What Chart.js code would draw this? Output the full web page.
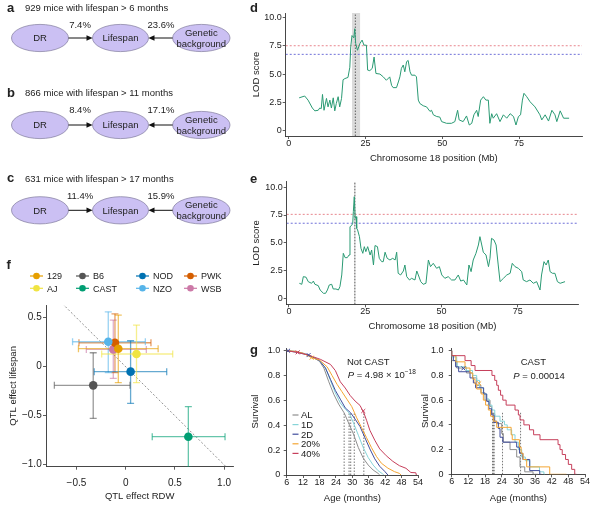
<!DOCTYPE html>
<html>
<head>
<meta charset="utf-8">
<script src="https://cdn.jsdelivr.net/npm/chart.js@4.4.1/dist/chart.umd.min.js"></script>
<style>
  body { margin: 0; background: #fff; }
  #wrap { position: relative; width: 596px; height: 508px; overflow: hidden; font-family: "Liberation Sans", Arial, sans-serif; }
  #wrap canvas, #wrap svg { position: absolute; }
</style>
</head>
<body>
<div id="wrap"></div>
<script>
// ---- panels a-c: variance explained
const cohortTitles = ['929 mice with lifespan > 6 months', '866 mice with lifespan > 11 months', '631 mice with lifespan > 17 months'];
const drShare = ['7.4%', '8.4%', '11.4%'];
const geneticShare = ['23.6%', '17.1%', '15.9%'];

// ---- panel d: LOD scan, all mice
const dPos = [3.4,5.2,6.3,7.7,8.5,9.6,10.1,10.6,11.0,11.5,12.3,12.8,13.4,13.9,14.5,15.0,15.5,16.1,16.6,17.2,
  17.7,18.3,19.3,19.9,20.2,20.6,21.2,21.5,21.8,22.4,23.2,23.9,24.5,25.3,25.7,26.4,27.2,27.8,28.4,29.7,
  30.8,31.8,32.9,33.5,34.0,35.1,35.7,36.2,36.7,37.3,37.8,38.4,38.9,39.5,40.0,41.1,41.6,42.2,42.7,43.8,
  44.9,46.0,46.5,47.1,48.2,49.2,49.8,51.4,53.0,54.1,55.0,55.5,56.8,57.9,58.8,59.6,60.3,61.2,61.7,62.5,
  63.4,64.2,65.0,65.5,66.1,66.6,67.7,68.8,69.9,71.0,72.1,73.2,74.0,74.8,75.5,76.1,76.6,77.5,78.6,80.2,
  81.8,82.4,83.5,84.6,85.7,86.7,87.3,88.4,89.5,91.3];
const dLod = [2.9,3.06,2.7,2.0,1.75,1.8,2.0,1.95,3.2,1.8,2.85,2.1,2.7,2.0,2.9,1.75,2.4,3.0,2.1,2.85,
  4.5,4.6,4.7,5.6,7.4,8.4,8.2,9.0,7.7,7.1,7.7,8.0,7.55,7.55,5.35,5.3,5.5,6.5,5.05,5.0,
  4.75,4.45,4.75,4.0,3.8,3.8,4.3,4.75,5.5,5.8,5.2,6.1,6.2,5.2,4.9,4.9,4.75,2.7,2.4,2.2,
  2.1,1.7,1.8,1.4,1.25,1.2,0.8,0.65,0.65,0.8,1.8,0.95,0.8,1.3,0.5,0.65,1.4,1.8,1.25,2.7,
  3.0,2.7,2.7,0.65,1.5,1.1,1.5,0.8,1.4,1.1,1.5,1.25,0.5,1.25,1.4,2.7,3.3,3.0,2.55,2.1,
  1.4,0.95,1.4,0.85,1.8,1.4,0.8,1.75,1.1,1.1];
const dThresh = [7.5, 6.74];
const dBand = [20.6, 23.3];
const dPeak = 21.7;

// ---- panel e: LOD scan, second model
const ePos = [3.4,4.2,4.7,5.6,6.3,7.4,8.0,8.5,9.6,10.2,11.3,12.0,12.6,13.2,14.0,14.5,15.4,16.2,16.7,17.3,
  17.8,18.4,19.1,19.7,20.0,20.5,20.9,21.1,21.4,21.7,22.0,22.2,22.5,23.1,23.6,24.2,24.7,25.2,25.8,26.6,
  27.1,27.7,28.2,29.0,29.6,30.4,30.9,31.5,32.2,33.1,34.0,34.8,35.3,35.8,36.6,37.5,38.0,38.6,39.5,40.2,
  41.3,41.9,42.4,43.2,44.0,44.9,45.7,46.4,47.3,48.4,49.3,50.1,51.1,52.2,53.3,54.4,55.5,56.3,57.2,58.3,
  59.0,59.7,60.4,61.3,62.1,62.6,63.2,63.7,64.6,65.4,65.9,66.4,67.2,67.9,68.6,69.2,70.3,71.4,72.5,73.2,
  74.1,75.2,76.3,76.8,77.9,79.0,80.1,81.2,82.3,82.8,83.6,84.3,85.0,85.6,86.4,87.2,88.0,88.9,90.5];
const eLod = [1.35,1.26,1.95,1.9,1.5,1.35,1.55,1.26,1.14,0.75,0.45,0.45,0.75,1.2,1.26,0.84,0.84,0.75,1.05,2.1,
  4.05,3.66,3.66,3.9,6.45,6.55,6.75,7.8,9.15,7.2,7.35,6.3,6.15,5.55,4.5,4.05,4.65,4.2,4.65,3.9,
  4.35,3.0,4.75,4.65,3.6,3.3,3.3,4.15,3.6,3.45,3.6,3.45,4.15,2.25,2.1,2.46,3.0,1.95,1.65,1.8,
  1.65,2.46,2.1,1.5,1.26,1.35,3.45,2.85,3.15,2.7,2.85,2.1,1.8,1.95,1.65,1.65,2.1,1.55,1.65,1.2,
  3.0,2.4,3.45,4.05,4.8,5.55,4.8,4.15,3.9,2.85,3.6,5.4,5.25,4.8,3.0,1.5,1.8,2.1,2.25,3.15,
  2.85,2.7,2.4,1.65,1.5,1.65,1.35,1.5,0.75,2.1,3.3,3.0,3.45,2.4,2.25,2.25,1.5,1.35,1.5];
const eThresh = [7.56, 6.76];
const eBand = [21.35, 21.85];
const ePeak = 21.6;

const lodTicks = [0, 2.5, 5, 7.5, 10];
const lodLabels = ['0', '2.5', '5.0', '7.5', '10.0'];
const posTicks = [0, 25, 50, 75];
const posLabels = ['0', '25', '50', '75'];

// ---- panel f: QTL effects per founder strain
const strains = ['129', 'AJ', 'B6', 'CAST', 'NOD', 'NZO', 'PWK', 'WSB'];
const rdwEff = [-0.075, 0.11, -0.33, 0.637, 0.05, -0.177, -0.109, -0.126];
const rdwLo = [-0.48, -0.244, -0.725, 0.27, -0.32, -0.54, -0.475, -0.40];
const rdwHi = [0.33, 0.478, 0.044, 1.01, 0.417, 0.20, 0.257, 0.21];
const lifeEff = [0.184, 0.13, -0.19, -0.714, -0.05, 0.255, 0.245, 0.177];
const lifeLo = [-0.163, -0.163, -0.527, -1.027, -0.374, -0.06, -0.06, -0.118];
const lifeHi = [0.527, 0.425, 0.143, -0.408, 0.265, 0.56, 0.54, 0.476];
const rdwTicks = [-0.5, 0, 0.5, 1.0];
const rdwLabels = ['\u22120.5', '0', '0.5', '1.0'];
const lifeTicks = [-1.0, -0.5, 0, 0.5];
const lifeLabels = ['\u22121.0', '\u22120.5', '0', '0.5'];

// ---- panel g: survival, [age (months), survival]
const groups = ['AL', '1D', '2D', '20%', '40%'];
const ncAL = [[6,1],[9,0.995],[12,0.98],[15,0.955],[18,0.915],[19.6,0.86],[21.4,0.75],[23.2,0.65],[25,0.57],[27,0.5],[28.6,0.42],[30.4,0.33],[32.2,0.22],[34,0.135],[35.8,0.08],[37.6,0.04],[39.4,0.013],[40,0]];
const nc1D = [[6,1],[9,0.995],[12,0.98],[15,0.955],[18,0.92],[20.2,0.86],[22,0.76],[23.8,0.66],[25.6,0.58],[27.4,0.53],[28.8,0.5],[30.4,0.42],[32.2,0.32],[34,0.22],[35.8,0.14],[37.6,0.08],[39.4,0.035],[41,0.01],[41.5,0]];
const nc2D = [[6,1],[9,0.99],[12,0.975],[14,0.965],[18,0.92],[20.2,0.86],[22,0.77],[23.8,0.68],[25.6,0.61],[27.4,0.54],[29.4,0.5],[31,0.45],[32.8,0.39],[34.6,0.3],[36.4,0.21],[38.2,0.13],[40,0.07],[41.8,0.03],[43,0]];
const nc20 = [[6,1],[9,0.995],[12,0.98],[15,0.945],[18,0.925],[20.8,0.87],[22.6,0.8],[24.4,0.73],[26.2,0.67],[28,0.61],[29.8,0.55],[30.8,0.5],[31.6,0.46],[33.4,0.38],[35.2,0.3],[37,0.22],[38.8,0.15],[40.6,0.095],[43,0.055],[45.4,0.027],[47.2,0.013],[47.8,0]];
const nc40 = [[6,1],[10,0.987],[14,0.965],[18.4,0.93],[22,0.89],[23.8,0.84],[25.6,0.75],[27.4,0.7],[29.2,0.64],[31,0.595],[32.8,0.56],[34.2,0.5],[35.2,0.44],[36.4,0.36],[38.2,0.28],[40,0.21],[42.4,0.155],[44.8,0.11],[47.2,0.075],[49.6,0.054],[51.4,0.02],[53.2,0.018],[53.4,0]];
const ncMedians = [27.0, 28.8, 29.4, 30.7, 34.2];
const ncCensorAge = [6.5, 10, 14, 15.1, 34];
const ncCensorSurv = [1.0, 0.987, 0.965, 0.944, 0.515];
const ncCensorGroup = ['2D', '40%', '2D', '20%', '40%'];

const castAL = [[6,1],[7.8,0.92],[11.3,0.86],[13.5,0.82],[15.0,0.78],[16.5,0.72],[18.0,0.66],[19.8,0.60],[20.4,0.55],[21.5,0.49],[22.2,0.43],[24.0,0.41],[24.6,0.33],[27.0,0.26],[29.4,0.20],[30.6,0.14],[32.3,0.06],[35.3,0.02],[37.1,0]];
const cast1D = [[6,1],[7.8,0.95],[8.0,0.91],[11.3,0.87],[13.5,0.84],[15.0,0.80],[16.0,0.76],[17.4,0.70],[18.6,0.65],[19.4,0.61],[20.5,0.56],[21.5,0.52],[23.4,0.47],[25.0,0.43],[26.0,0.40],[27.6,0.36],[28.8,0.32],[30.0,0.26],[31.2,0.20],[32.5,0.14],[34.1,0.11],[37.6,0.06],[39.2,0.02],[39.6,0]];
const cast2D = [[6,1],[6.6,0.96],[7.4,0.92],[8.5,0.87],[12.6,0.83],[13.8,0.78],[14.6,0.74],[17.5,0.70],[18.6,0.65],[19.4,0.59],[20.4,0.53],[21.2,0.48],[22.8,0.42],[23.4,0.37],[24.4,0.30],[29.4,0.26],[30.4,0.22],[31.6,0.17],[34.1,0.12],[37.7,0.03],[38.3,0]];
const cast20 = [[6,1],[7.5,0.96],[10.8,0.91],[12.6,0.86],[13.6,0.82],[14.4,0.77],[15.0,0.73],[16.6,0.69],[17.4,0.65],[18.2,0.60],[19.2,0.56],[20.0,0.52],[21.0,0.47],[22.2,0.43],[27.4,0.38],[27.8,0.32],[30.4,0.28],[31.0,0.22],[31.7,0.17],[33.0,0.12],[41.3,0.06],[47.3,0]];
const cast40 = [[6,1],[10.8,0.96],[13.0,0.92],[14.4,0.88],[20.5,0.84],[21.5,0.80],[22.2,0.76],[22.8,0.72],[23.6,0.68],[24.4,0.64],[25.6,0.60],[28.8,0.56],[30.0,0.52],[30.6,0.48],[32.0,0.44],[34.0,0.40],[35.5,0.36],[37.8,0.32],[44.3,0.28],[45.0,0.24],[45.8,0.20],[47.0,0.16],[48.0,0.12],[49.2,0.08],[50.3,0.04],[50.9,0]];
const castMedians = [20.7, 21.0, 21.3, 24.3, 30.8];
const castCensorAge = [10.2, 15.9];
const castCensorSurv = [0.857, 0.736];
const castCensorGroup = ['2D', '20%'];

const ageTicks = [6, 12, 18, 24, 30, 36, 42, 48, 54];
const ageLabels = ageTicks.map(String);
const survTicks = [0, 0.2, 0.4, 0.6, 0.8, 1.0];
const survLabels = ['0', '0.2', '0.4', '0.6', '0.8', '1.0'];

// ---- styles
const strainColors = { '129': '#e69f00', 'AJ': '#f0e442', 'B6': '#555555', 'CAST': '#009e73',
  'NOD': '#0072b2', 'NZO': '#56b4e9', 'PWK': '#d55e00', 'WSB': '#cc79a7' };
const groupColors = { 'AL': '#8e8e8e', '1D': '#86d4d8', '2D': '#3f4c9c', '20%': '#f4a533', '40%': '#c63f5b' };
const lodColor = '#2a9a73';

Chart.defaults.font.family = '"Liberation Sans", Arial, sans-serif';
Chart.defaults.color = '#222';

const wrap = document.getElementById('wrap');

function rgba(hex, a) {
  const n = parseInt(hex.slice(1), 16);
  return `rgba(${n >> 16},${(n >> 8) & 255},${n & 255},${a})`;
}

function addCanvas(left, top, w, h) {
  const c = document.createElement('canvas');
  c.width = w; c.height = h;
  c.style.left = left + 'px'; c.style.top = top + 'px';
  c.style.width = w + 'px'; c.style.height = h + 'px';
  wrap.appendChild(c);
  return c;
}

// axis with fixed box size so plot areas land where the reference has them
function axis(min, max, ticks, labels, o) {
  return {
    type: 'linear', min, max,
    afterBuildTicks: s => { s.ticks = ticks.map(v => ({ value: v })); },
    afterFit: s => {
      if (s.isHorizontal()) s.height = o.size; else s.width = o.size;
      s.paddingLeft = s.paddingRight = s.paddingTop = s.paddingBottom = 0;
    },
    ticks: { autoSkip: false, maxRotation: 0, padding: o.pad, color: '#222',
      font: { size: o.font || 9, lineHeight: 1 },
      callback: v => labels[ticks.indexOf(v)] },
    grid: { drawOnChartArea: false, tickLength: 3, color: '#333', lineWidth: 0.8 },
    border: { color: '#333', width: 0.9 },
    title: { display: true, text: o.title, color: '#222', font: { size: 9.5, lineHeight: 1 },
      padding: { top: o.tpad, bottom: o.tpad } }
  };
}

function options(padding, x, y) {
  return { responsive: false, animation: false, events: [], layout: { padding },
    plugins: { legend: { display: false }, tooltip: { enabled: false } }, scales: { x, y } };
}

function line(data, color, extra) {
  return Object.assign({ type: 'line', data, borderColor: color, borderWidth: 1, pointRadius: 0,
    fill: false, tension: 0 }, extra || {});
}

function pts(xs, ys) { return xs.map((x, i) => ({ x, y: ys[i] })); }

// ---- d and e
function lodChart(canvas, pos, lod, xr, yr, thresh, band, peak, pad, ysize, xsize) {
  const datasets = [
    line(pos.map((x, i) => ({ x, y: lod[i] })), lodColor, { order: 1 }),
    line([{ x: peak, y: yr[0] }, { x: peak, y: yr[1] }], '#555', { borderDash: [1.5, 1.5], borderWidth: 0.9, order: 2 }),
    line([{ x: xr[0], y: thresh[0] }, { x: xr[1], y: thresh[0] }], '#e8868d', { borderDash: [2, 2], order: 3 }),
    line([{ x: xr[0], y: thresh[1] }, { x: xr[1], y: thresh[1] }], '#6f70d8', { borderDash: [2, 2], order: 3 }),
    line([{ x: band[0], y: yr[1] }, { x: band[1], y: yr[1] }], 'rgba(0,0,0,0)',
      { borderWidth: 0, fill: { value: yr[0] }, backgroundColor: 'rgba(165,165,165,0.4)', order: 5 })
  ];
  new Chart(canvas, {
    type: 'line', data: { datasets },
    options: options(pad,
      axis(xr[0], xr[1], posTicks, posLabels, { size: xsize, pad: 0, title: 'Chromosome 18 position (Mb)', tpad: 5.25 }),
      axis(yr[0], yr[1], lodTicks, lodLabels, { size: ysize, pad: 1, title: 'LOD score', tpad: 6.25 }))
  });
}

lodChart(addCanvas(245, 0, 345, 168), dPos, dLod, [-0.98, 95.5], [-0.47, 10.39], dThresh, dBand, dPeak,
  { left: 0, top: 13, right: 8, bottom: 0 }, 40.7, 32);
lodChart(addCanvas(245, 168, 345, 168), ePos, eLod, [-0.75, 94.85], [-0.54, 10.5], eThresh, eBand, ePeak,
  { left: 0, top: 13.7, right: 11.7, bottom: 0 }, 41.7, 31.7);

// ---- f
const fSets = [];
strains.forEach((s, i) => {
  const col = strainColors[s];
  fSets.push({ type: 'scatter', data: [{ x: rdwEff[i], y: lifeEff[i] }], backgroundColor: col,
    borderWidth: 0, pointRadius: 4.3, order: 0 });
  fSets.push({ type: 'scatter', showLine: true, data: [{ x: rdwEff[i], y: lifeLo[i] }, { x: rdwEff[i], y: lifeHi[i] }],
    borderColor: rgba(col, 0.6), borderWidth: 1.3, pointStyle: 'line', pointRadius: 3.5,
    pointBorderColor: rgba(col, 0.6), pointBorderWidth: 1.3, order: 1 });
  fSets.push({ type: 'scatter', showLine: true, data: [{ x: rdwLo[i], y: lifeEff[i] }, { x: rdwHi[i], y: lifeEff[i] }],
    borderColor: rgba(col, 0.6), borderWidth: 1.3, pointStyle: 'line', pointRadius: 3.5, pointRotation: 90,
    pointBorderColor: rgba(col, 0.6), pointBorderWidth: 1.3, order: 1 });
});
fSets.push({ type: 'scatter', showLine: true, data: [{ x: -0.7, y: 0.7 }, { x: 1.1, y: -1.1 }],
  borderColor: '#777', borderWidth: 0.8, borderDash: [2, 2], pointRadius: 0, order: 2 });

new Chart(addCanvas(0, 295, 245, 213), {
  type: 'scatter', data: { datasets: fSets },
  options: options({ left: 0, top: 10, right: 11.7, bottom: 0 },
    axis(-0.81, 1.094, rdwTicks, rdwLabels, { size: 41.3, pad: 8.6, font: 10, title: 'QTL effect RDW', tpad: 6.55 }),
    axis(-1.02, 0.63, lifeTicks, lifeLabels, { size: 46, pad: 1.3, font: 10, title: 'QTL effect lifespan', tpad: 8.55 }))
});

// ---- g
function survChart(canvas, curves, medians, cAge, cSurv, cGroup, stepped, pad, ysize, xsize, ypad, ytpad) {
  const datasets = [];
  curves.forEach((c, i) => {
    datasets.push(line(c.map(p => ({ x: p[0], y: p[1] })), groupColors[groups[i]],
      { stepped: stepped ? 'after' : false, borderWidth: 1, order: 10 - i }));
  });
  medians.forEach(m => datasets.push(line([{ x: m, y: 0 }, { x: m, y: 0.5 }], '#555',
    { borderDash: [1.5, 1.5], borderWidth: 0.8, order: 20 })));
  cAge.forEach((a, i) => datasets.push({ type: 'scatter', data: [{ x: a, y: cSurv[i] }], pointStyle: 'crossRot',
    pointRadius: 2.8, borderColor: groupColors[cGroup[i]], pointBorderWidth: 1, borderWidth: 1, order: 0 }));
  new Chart(canvas, {
    type: 'line', data: { datasets },
    options: options(pad,
      axis(6, 54, ageTicks, ageLabels, { size: xsize, pad: 0, title: 'Age (months)', tpad: 5.25 }),
      axis(0, 1.022, survTicks, survLabels, { size: ysize, pad: ypad, title: 'Survival', tpad: ytpad }))
  });
}

survChart(addCanvas(245, 335, 178, 173), [ncAL, nc1D, nc2D, nc20, nc40], ncMedians,
  ncCensorAge, ncCensorSurv, ncCensorGroup, false, { left: 0, top: 13, right: 3.7, bottom: 0 }, 41.7, 33, 3.5, 5.25);
survChart(addCanvas(420, 335, 176, 173), [castAL, cast1D, cast2D, cast20, cast40], castMedians,
  castCensorAge, castCensorSurv, castCensorGroup, true, { left: 0, top: 13, right: 11, bottom: 0 }, 31.7, 33.7, 5.2, 0.25);

// ---- overlay: diagrams, legends, annotations
const svg = [];
function txt(s, x, y, size, o) {
  o = o || {};
  svg.push(`<text x="${x}" y="${(y + size * 0.355).toFixed(2)}" font-size="${size}" fill="#222"` +
    ` text-anchor="${o.anchor || 'start'}"${o.bold ? ' font-weight="bold"' : ''}${o.italic ? ' font-style="italic"' : ''}>${s}</text>`);
}
const esc = s => s.replace(/&/g, '&amp;').replace(/</g, '&lt;').replace(/>/g, '&gt;');

const rowY = [38, 125, 210.3];
const titleY = [8, 92.7, 178.3];
const shareY = [24.5, 110, 196];
['a', 'b', 'c'].forEach((lab, i) => {
  const y = rowY[i];
  txt(lab, 7, titleY[i] - 0.8, 13, { bold: true });
  txt(esc(cohortTitles[i]), 25, titleY[i], 9.5);
  [[40, 28.5], [120.5, 28], [201.3, 28.7]].forEach(([cx, rx]) => {
    svg.push(`<ellipse cx="${cx}" cy="${y}" rx="${rx}" ry="13.6" fill="#cbc0f3" stroke="#7f7a9c" stroke-width="0.7"/>`);
  });
  txt('DR', 40, y, 9.5, { anchor: 'middle' });
  txt('Lifespan', 120.5, y, 9.5, { anchor: 'middle' });
  txt('Genetic', 201.3, y - 5.5, 9.5, { anchor: 'middle' });
  txt('background', 201.3, y + 5.5, 9.5, { anchor: 'middle' });
  svg.push(`<line x1="68.5" y1="${y}" x2="87.5" y2="${y}" stroke="#111" stroke-width="1"/>`);
  svg.push(`<polygon points="86.5,${y - 2.7} 92.6,${y} 86.5,${y + 2.7}" fill="#111"/>`);
  svg.push(`<line x1="172.6" y1="${y}" x2="153.5" y2="${y}" stroke="#111" stroke-width="1"/>`);
  svg.push(`<polygon points="154.5,${y - 2.7} 148.4,${y} 154.5,${y + 2.7}" fill="#111"/>`);
  txt(drShare[i], 80, shareY[i], 9.5, { anchor: 'middle' });
  txt(geneticShare[i], 161, shareY[i], 9.5, { anchor: 'middle' });
});

txt('d', 250, 7, 13, { bold: true });
txt('e', 250, 178.6, 13, { bold: true });
txt('f', 6.5, 264, 13, { bold: true });
txt('g', 250, 349.5, 13, { bold: true });

// f legend
const legCols = [30, 76, 136, 184];
const legRows = [276, 288.3];
strains.forEach((s, i) => {
  const x0 = legCols[Math.floor(i / 2)], y = legRows[i % 2], col = strainColors[s];
  svg.push(`<line x1="${x0}" y1="${y}" x2="${x0 + 13}" y2="${y}" stroke="${col}" stroke-width="1.2"/>`);
  svg.push(`<circle cx="${x0 + 6.5}" cy="${y}" r="3.3" fill="${col}"/>`);
  txt(s, x0 + 17, y, 9);
});

// g legend and annotations
groups.forEach((g, i) => {
  const y = 415 + i * 9.6;
  svg.push(`<line x1="292.5" y1="${y}" x2="298.5" y2="${y}" stroke="${groupColors[g]}" stroke-width="1.2"/>`);
  txt(esc(g), 301, y, 9.5);
});
txt('Not CAST', 368.3, 362, 9.5, { anchor: 'middle' });
svg.push(`<text x="347.7" y="${(374.3 + 3.4).toFixed(1)}" font-size="9.5" fill="#222"><tspan font-style="italic">P</tspan> = 4.98 \u00d7 10<tspan dy="-3.8" font-size="6.5">\u221218</tspan></text>`);
txt('CAST', 533.3, 361.7, 9.5, { anchor: 'middle' });
svg.push(`<text x="513.3" y="${(375.7 + 3.4).toFixed(1)}" font-size="9.5" fill="#222"><tspan font-style="italic">P</tspan> = 0.00014</text>`);

const ov = document.createElementNS('http://www.w3.org/2000/svg', 'svg');
ov.setAttribute('width', '596');
ov.setAttribute('height', '508');
ov.style.left = '0px'; ov.style.top = '0px';
ov.style.fontFamily = '"Liberation Sans", Arial, sans-serif';
ov.innerHTML = svg.join('');
wrap.appendChild(ov);
</script>
</body>
</html>
